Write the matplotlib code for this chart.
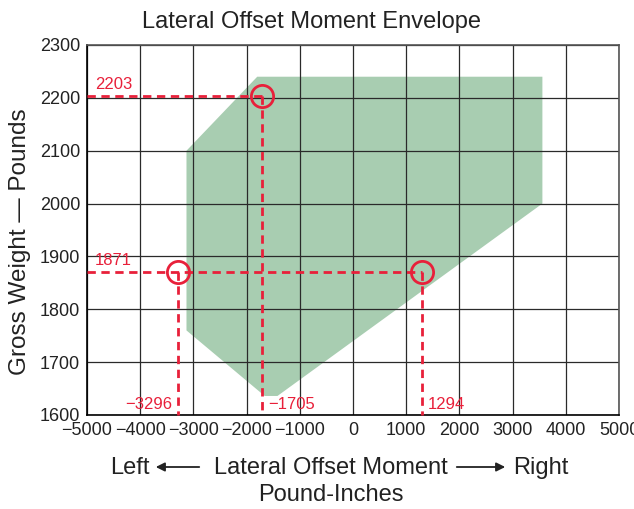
import numpy as np
import matplotlib.pyplot as plt
from matplotlib.patches import Polygon, FancyArrowPatch

plt.rcParams['font.family'] = ['Liberation Sans', 'DejaVu Sans']

# envelope outline (pound-inches, pounds)
env_x = [-1800, 3560, 3560, -1420, -1660, -3130, -3130]
env_y = [2240, 2240, 2000, 1636, 1636, 1760, 2100]

# worked example points
ex_moment = [-1705, -3296, 1294]
ex_weight = [2203, 1871, 1871]

xticks = np.arange(-5000, 5001, 1000)
yticks = np.arange(1600, 2301, 100)

red = '#e8203a'
green = '#a8cdb1'
ink = '#222222'

fig = plt.figure(figsize=(6.34, 5.09), dpi=100)
ax = fig.add_axes([87/634, 1 - 415/509, 532/634, 370/509])

ax.add_patch(Polygon(np.column_stack([env_x, env_y]), closed=True,
                     facecolor=green, edgecolor='none', zorder=1))

ax.set_xlim(-5000, 5000)
ax.set_ylim(1600, 2300)
ax.set_xticks(xticks)
ax.set_yticks(yticks)
ax.set_xticklabels([str(v).replace('-', '\u2212') for v in xticks])
ax.grid(True, color='#2a2a2a', lw=0.9, zorder=2)
ax.set_axisbelow(False)
ax.tick_params(length=0, labelsize=13, labelcolor=ink, pad=5)
for s in ax.spines.values():
    s.set_color('#555555')
    s.set_linewidth(1.2)
    s.set_zorder(3)
ax.spines['left'].set_color('black')
ax.spines['bottom'].set_color('black')

dash = dict(color=red, lw=2.0, ls=(0, (3, 2)), zorder=4, clip_on=False)
# horizontal leaders from the weight axis
ax.plot([-5000, ex_moment[0]], [ex_weight[0]] * 2, **dash)
ax.plot([-5000, max(ex_moment[1:])], [ex_weight[1]] * 2, **dash)
# vertical leaders down to the moment axis
for m, w in zip(ex_moment, ex_weight):
    ax.plot([m, m], [w, 1600], **dash)
ax.plot(ex_moment, ex_weight, 'o', ms=16, mfc='none', mec=red, mew=2.0, zorder=5)

lbl = dict(color=red, fontsize=12, zorder=6)
ax.text(-4850, ex_weight[0] + 8, str(ex_weight[0]), ha='left', va='bottom', **lbl)
ax.text(-4850, ex_weight[1] + 8, str(ex_weight[1]), ha='left', va='bottom', **lbl)
ax.text(ex_moment[1] - 100, 1606, '\u2212' + str(-ex_moment[1]),
        ha='right', va='bottom', **lbl)
ax.text(ex_moment[0] + 120, 1606, '\u2212' + str(-ex_moment[0]),
        ha='left', va='bottom', **lbl)
ax.text(ex_moment[2] + 120, 1606, str(ex_moment[2]), ha='left', va='bottom', **lbl)

fig.text(311/634, 1 - 22/509, 'Lateral Offset Moment Envelope', fontsize=17,
         ha='center', va='center', color=ink)
fig.text(20/634, 1 - 242/509, 'Gross Weight \u2014 Pounds', fontsize=17.5,
         rotation=90, ha='center', va='center', color=ink)

fig.text(150/634, 1 - 468/509, 'Left', fontsize=17, ha='right', va='center', color=ink)
fig.text(331/634, 1 - 468/509, 'Lateral Offset Moment', fontsize=17,
         ha='center', va='center', color=ink)
fig.text(513/634, 1 - 468/509, 'Right', fontsize=17, ha='left', va='center', color=ink)
fig.text(331/634, 1 - 495/509, 'Pound-Inches', fontsize=17,
         ha='center', va='center', color=ink)
for x0, x1 in [(202, 153), (454, 508)]:
    fig.patches.append(FancyArrowPatch((x0/634, 1 - 467/509), (x1/634, 1 - 467/509),
                                       transform=fig.transFigure, arrowstyle='-|>',
                                       mutation_scale=13, lw=1.3, color=ink))

fig.savefig('out.png', dpi=100)
